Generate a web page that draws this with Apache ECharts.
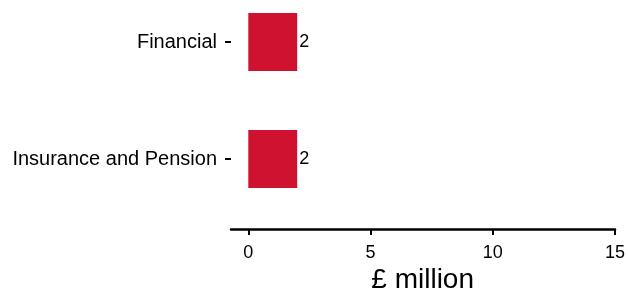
<!DOCTYPE html>
<html>
<head>
    <meta charset="utf-8" />
    <title>ECharts</title>
    <script src="https://cdn.jsdelivr.net/npm/echarts@6/dist/echarts.min.js"></script>
    <style>
        body { margin: 0; background: #fff; }
    </style>
</head>
<body>
    <div id="main" style="width: 628px;height:293px;"></div>

    <script type="text/javascript">
        // data
        var categories = ['Insurance and Pension', 'Financial'];
        var values = [2, 2];
        var xMin = 0, xMax = 15;
        var xTickLabels = ['0', '5', '10', '15'];

        var font = '"Liberation Sans", Arial, sans-serif';

        var myChart = echarts.init(document.getElementById('main'));

        var option = {
            backgroundColor: '#ffffff',
            animation: false,
            grid: [
                // bars
                { left: 248.3, right: 13, top: -16.5, height: 234, outerBoundsMode: 'none', containLabel: false },
                // the long axis line (starts a bit left of 0)
                { left: 231, right: 13, top: -16.5, height: 234, outerBoundsMode: 'none', containLabel: false },
                // ticks + tick labels, drawn by an evenly spaced category axis
                { left: 248.3, right: 13, top: -16.5, height: 234, outerBoundsMode: 'none', containLabel: false }
            ],
            xAxis: [
                {
                    type: 'value',
                    gridIndex: 0,
                    min: xMin,
                    max: xMax,
                    offset: 11.5,
                    name: '£ million',
                    nameLocation: 'middle',
                    nameGap: 37,
                    nameTextStyle: { fontFamily: font, fontSize: 28, color: '#000', padding: [0, 18, 0, 0] },
                    splitLine: { show: false },
                    axisLine: { show: false, onZero: false },
                    axisTick: { show: false },
                    axisLabel: { show: false }
                },
                {
                    type: 'value',
                    gridIndex: 1,
                    min: 0,
                    max: 1,
                    offset: 11.5,
                    splitLine: { show: false },
                    axisLine: { show: true, onZero: false, lineStyle: { color: '#000', width: 2.5 } },
                    axisTick: { show: false },
                    axisLabel: { show: false }
                },
                {
                    type: 'category',
                    gridIndex: 2,
                    data: xTickLabels,
                    boundaryGap: false,
                    offset: 11.5,
                    splitLine: { show: false },
                    axisLine: { show: false, onZero: false },
                    axisTick: { show: true, length: 6, lineStyle: { color: '#000', width: 2 } },
                    axisLabel: { margin: 15, fontFamily: font, fontSize: 18, color: '#000' }
                }
            ],
            yAxis: [
                {
                    type: 'category',
                    gridIndex: 0,
                    data: categories,
                    offset: 17.3,
                    axisLine: { show: false, onZero: false },
                    axisTick: { show: true, length: 6, alignWithLabel: true, lineStyle: { color: '#000', width: 2 } },
                    axisLabel: { margin: 14, fontFamily: font, fontSize: 20, color: '#000' }
                },
                { type: 'value', gridIndex: 1, show: false },
                { type: 'value', gridIndex: 2, show: false }
            ],
            series: [{
                type: 'bar',
                xAxisIndex: 0,
                yAxisIndex: 0,
                data: values,
                barWidth: 58,
                itemStyle: { color: '#CE1230' },
                label: {
                    show: true,
                    position: 'right',
                    distance: 2,
                    fontFamily: font,
                    fontSize: 18,
                    color: '#000'
                }
            }]
        };

        myChart.setOption(option);
    </script>
</body>
</html>
